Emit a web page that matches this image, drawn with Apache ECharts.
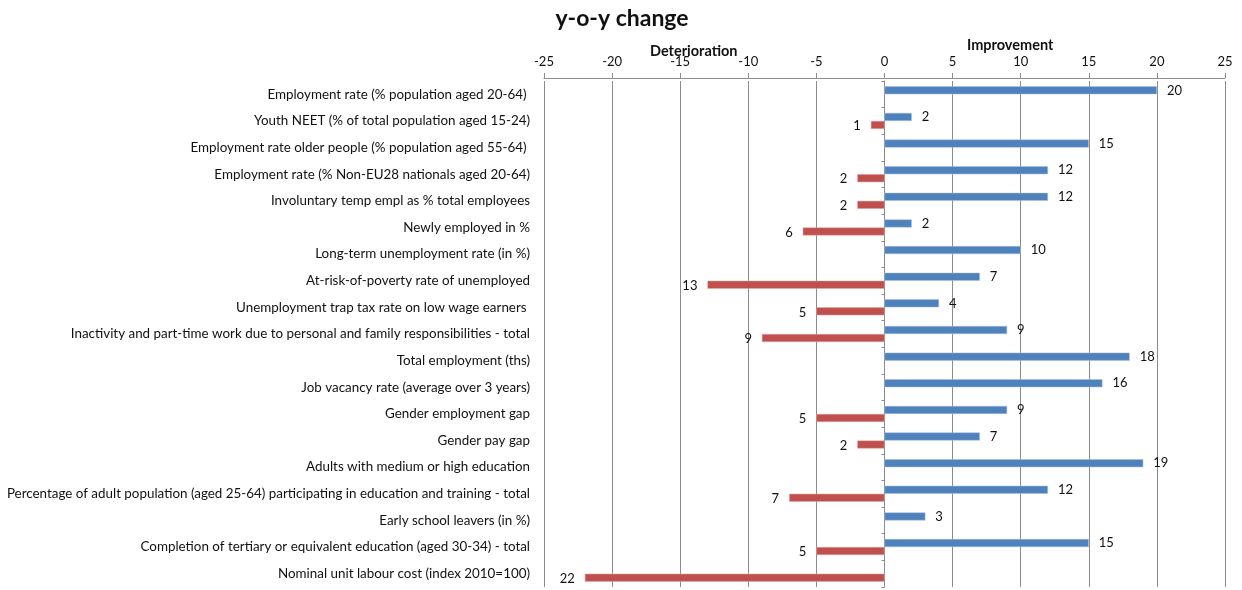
<!DOCTYPE html>
<html>
<head>
<meta charset="utf-8">
<script src="https://cdn.jsdelivr.net/npm/echarts@6/dist/echarts.min.js"></script>
<style>html,body{margin:0;padding:0;background:#fff}#c{width:1242px;height:590px}</style>
</head>
<body>
<div id="c"></div>
<script>
const categories = [
  'Employment rate (% population aged 20-64) ',
  'Youth NEET (% of total population aged 15-24)',
  'Employment rate older people (% population aged 55-64) ',
  'Employment rate (% Non-EU28 nationals aged 20-64)',
  'Involuntary temp empl as % total employees',
  'Newly employed in %',
  'Long-term unemployment rate (in %)',
  'At-risk-of-poverty rate of unemployed',
  'Unemployment trap tax rate on low wage earners ',
  'Inactivity and part-time work due to personal and family responsibilities - total',
  'Total employment (ths)',
  'Job vacancy rate (average over 3 years)',
  'Gender employment gap',
  'Gender pay gap',
  'Adults with medium or high education',
  'Percentage of adult population (aged 25-64) participating in education and training - total',
  'Early school leavers (in %)',
  'Completion of tertiary or equivalent education (aged 30-34) - total',
  'Nominal unit labour cost (index 2010=100)'
];
const improvement = [20, 2, 15, 12, 12, 2, 10, 7, 4, 9, 18, 16, 9, 7, 19, 12, 3, 15, null];
const deterioration = [null, -1, null, -2, -2, -6, null, -13, -5, -9, null, null, -5, -2, null, -7, null, -5, -22];
const xTicks = { min: -25, max: 25, interval: 5 };

const FONT = 'Lato';
const chart = echarts.init(document.getElementById('c'), null, { renderer: 'canvas' });
chart.setOption({
  animation: false,
  backgroundColor: '#fff',
  textStyle: { fontFamily: FONT },
  title: {
    text: 'y-o-y change',
    left: 617, top: 2, textAlign: 'center',
    textStyle: { fontFamily: FONT, fontSize: 23, fontWeight: 'bold', color: '#111' }
  },
  graphic: [
    { type: 'text', left: 650, top: 44, style: { text: 'Deterioration', font: 'bold 14.5px ' + FONT, fill: '#111' } },
    { type: 'text', left: 967, top: 38, style: { text: 'Improvement', font: 'bold 14.5px ' + FONT, fill: '#111' } }
  ],
  grid: { left: 544, right: 17, top: 81, bottom: 3, containLabel: false },
  xAxis: {
    type: 'value', position: 'top', offset: 3,
    min: xTicks.min, max: xTicks.max, interval: xTicks.interval,
    axisLine: { show: true, lineStyle: { color: '#8c8c8c', width: 1 } },
    axisTick: { show: true, length: 5, lineStyle: { color: '#8c8c8c' } },
    axisLabel: { color: '#111', fontSize: 13, margin: 10, fontFamily: FONT },
    splitLine: { show: true, lineStyle: { color: '#8c8c8c', width: 1 } }
  },
  yAxis: [
    {
      type: 'category', data: categories, inverse: true, position: 'left',
      axisLine: { show: false, onZero: false },
      axisTick: { show: false },
      axisLabel: { color: '#111', fontSize: 13.4, margin: 14, fontFamily: FONT, interval: 0 }
    },
    {
      type: 'category', data: categories, inverse: true, position: 'left',
      axisLine: { show: true, onZero: true, lineStyle: { color: '#8c8c8c' } },
      axisTick: { show: true, length: 3, lineStyle: { color: '#8c8c8c' } },
      axisLabel: { show: false }
    }
  ],
  series: [
    {
      name: 'Improvement', type: 'bar', data: improvement,
      barWidth: 8, barGap: '0%',
      itemStyle: { color: '#4F81BD', borderColor: '#A7C0DE', borderWidth: 0.5 },
      label: { show: true, position: 'right', distance: 10, color: '#111', fontSize: 13, fontFamily: FONT }
    },
    {
      name: 'Deterioration', type: 'bar', data: deterioration,
      barWidth: 8, barGap: '0%',
      itemStyle: { color: '#C0504D', borderColor: '#E0A8A6', borderWidth: 0.5 },
      label: {
        show: true, position: 'left', distance: 10, color: '#111', fontSize: 13, fontFamily: FONT,
        offset: [0, 1],
        formatter: p => Math.abs(p.value)
      }
    }
  ]
});
</script>
</body>
</html>
